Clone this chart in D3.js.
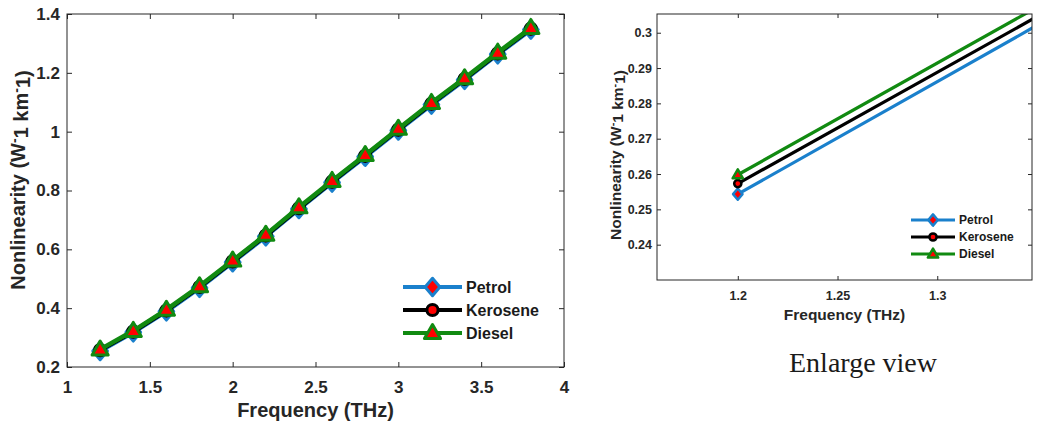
<!DOCTYPE html>
<html>
<head>
<meta charset="utf-8">
<script src="https://cdn.jsdelivr.net/npm/d3@7"></script>
<style>
  html, body { margin: 0; padding: 0; background: #fff; }
  svg { display: block; font-family: "Liberation Sans", Arial, sans-serif; }
  .caption { font-family: "Liberation Serif", "DejaVu Serif", serif; }
</style>
</head>
<body>
<svg id="fig" width="1037" height="428"></svg>
<script>
// Nonlinearity of the fuel-filled fibre versus frequency
const freq     = [1.2, 1.4, 1.6, 1.8, 2.0, 2.2, 2.4, 2.6, 2.8, 3.0, 3.2, 3.4, 3.6, 3.8];
const petrol   = [0.2543, 0.3180, 0.389, 0.469, 0.556, 0.644, 0.737, 0.827, 0.915, 1.004, 1.092, 1.176, 1.263, 1.347];
const kerosene = [0.2573, 0.3203, 0.392, 0.472, 0.559, 0.647, 0.740, 0.830, 0.918, 1.007, 1.095, 1.179, 1.266, 1.350];
const diesel   = [0.2598, 0.3230, 0.395, 0.475, 0.562, 0.650, 0.743, 0.833, 0.921, 1.010, 1.098, 1.182, 1.269, 1.353];
const seriesNames = ["Petrol", "Kerosene", "Diesel"];

// Tick values and labels, full range
const mainXTicks  = [1, 1.5, 2, 2.5, 3, 3.5, 4];
const mainXLabels = ["1", "1.5", "2", "2.5", "3", "3.5", "4"];
const mainYTicks  = [0.2, 0.4, 0.6, 0.8, 1.0, 1.2, 1.4];
const mainYLabels = ["0.2", "0.4", "0.6", "0.8", "1", "1.2", "1.4"];
// Tick values and labels, enlarged view
const zoomXTicks  = [1.2, 1.25, 1.3];
const zoomXLabels = ["1.2", "1.25", "1.3"];
const zoomYTicks  = [0.24, 0.25, 0.26, 0.27, 0.28, 0.29, 0.3];
const zoomYLabels = ["0.24", "0.25", "0.26", "0.27", "0.28", "0.29", "0.3"];

const seriesValues = [petrol, kerosene, diesel];

// Marker shapes (size = marker height in px)
const diamondMark = { draw(ctx, s) { const h = s / 2, w = s * 0.42; ctx.moveTo(0, -h); ctx.lineTo(w, 0); ctx.lineTo(0, h); ctx.lineTo(-w, 0); ctx.closePath(); } };
const circleMark  = { draw(ctx, s) { const r = s / 2; ctx.moveTo(r, 0); ctx.arc(0, 0, r, 0, 2 * Math.PI); ctx.closePath(); } };
const triMark     = { draw(ctx, s) { const h = s, w = s * 1.15 / 2; ctx.moveTo(0, -h * 0.6); ctx.lineTo(w, h * 0.4); ctx.lineTo(-w, h * 0.4); ctx.closePath(); } };

const styles = [
  { color: "#1a80cc", shape: diamondMark, k: 1.25 },
  { color: "#000000", shape: circleMark,  k: 0.8  },
  { color: "#118a11", shape: triMark,     k: 1.0  }
];

const svg = d3.select("#fig");
const axisColor = "#262626";

function drawPanel(cfg) {
  const g = svg.append("g");
  const x = d3.scaleLinear().domain(cfg.xDomain).range([cfg.left, cfg.right]);
  const y = d3.scaleLinear().domain(cfg.yDomain).range([cfg.bottom, cfg.top]);

  const clipId = "clip-" + cfg.id;
  svg.append("clipPath").attr("id", clipId)
    .append("rect")
    .attr("x", cfg.left).attr("y", cfg.top)
    .attr("width", cfg.right - cfg.left).attr("height", cfg.bottom - cfg.top);

  // Series lines and markers
  const plot = g.append("g").attr("clip-path", cfg.clip ? `url(#${clipId})` : null);
  const line = d3.line().x((d, i) => x(freq[i])).y(d => y(d));
  seriesValues.forEach((vals, si) => {
    const st = styles[si];
    plot.append("path")
      .attr("d", line(vals))
      .attr("fill", "none")
      .attr("stroke", st.color)
      .attr("stroke-width", cfg.lineW)
      .attr("stroke-linejoin", "round");
    const sym = d3.symbol().type(st.shape).size(cfg.markSize * st.k);
    plot.selectAll(null).data(vals).join("path")
      .attr("transform", (d, i) => `translate(${x(freq[i])},${y(d)})`)
      .attr("d", sym)
      .attr("fill", "#ff0000")
      .attr("stroke", st.color)
      .attr("stroke-width", cfg.markW)
      .attr("stroke-linejoin", "round");
  });

  // Axes with inward ticks on all four sides
  const fs = cfg.tickFont;
  const styleAxis = sel => {
    sel.select(".domain").remove();
    sel.selectAll("line").attr("stroke", axisColor);
    sel.selectAll("text").attr("fill", axisColor).attr("font-size", fs).attr("font-weight", "bold")
      .attr("font-family", "Liberation Sans, Arial, sans-serif");
  };
  g.append("g").attr("transform", `translate(0,${cfg.bottom})`)
    .call(d3.axisBottom(x).tickValues(cfg.xTicks).tickFormat((d, i) => cfg.xLabels[i])
      .tickSizeInner(-cfg.tickLen).tickSizeOuter(0).tickPadding(cfg.xPad))
    .call(styleAxis);
  g.append("g").attr("transform", `translate(0,${cfg.top})`)
    .call(d3.axisTop(x).tickValues(cfg.xTicks).tickFormat("")
      .tickSizeInner(-cfg.tickLen).tickSizeOuter(0))
    .call(styleAxis);
  g.append("g").attr("transform", `translate(${cfg.left},0)`)
    .call(d3.axisLeft(y).tickValues(cfg.yTicks).tickFormat((d, i) => cfg.yLabels[i])
      .tickSizeInner(-cfg.tickLen).tickSizeOuter(0).tickPadding(cfg.yPad))
    .call(styleAxis);
  g.append("g").attr("transform", `translate(${cfg.right},0)`)
    .call(d3.axisRight(y).tickValues(cfg.yTicks).tickFormat("")
      .tickSizeInner(-cfg.tickLen).tickSizeOuter(0))
    .call(styleAxis);

  g.append("rect")
    .attr("x", cfg.left).attr("y", cfg.top)
    .attr("width", cfg.right - cfg.left).attr("height", cfg.bottom - cfg.top)
    .attr("fill", "none").attr("stroke", axisColor).attr("stroke-width", 1);

  // Axis titles
  g.append("text")
    .attr("x", (cfg.left + cfg.right) / 2).attr("y", cfg.xTitleY)
    .attr("text-anchor", "middle")
    .attr("font-size", cfg.titleFont).attr("font-weight", "bold").attr("fill", axisColor)
    .text("Frequency (THz)");

  const yt = g.append("text")
    .attr("transform", `translate(${cfg.yTitleX},${cfg.yTitleY}) rotate(-90)`)
    .attr("text-anchor", "middle")
    .attr("font-size", cfg.titleFont).attr("font-weight", "bold").attr("fill", axisColor);
  yt.append("tspan").text("Nonlinearity (W");
  yt.append("tspan").attr("dy", "-0.45em").attr("font-size", "0.7em").text("-");
  yt.append("tspan").attr("dy", "0.45em").text("1 km");
  yt.append("tspan").attr("dy", "-0.45em").attr("font-size", "0.7em").text("-");
  yt.append("tspan").attr("dy", "0.45em").text("1)");

  // Legend
  const lg = g.append("g");
  seriesNames.forEach((name, si) => {
    const st = styles[si];
    const ry = cfg.legY + si * cfg.legStep;
    lg.append("line")
      .attr("x1", cfg.legX0).attr("x2", cfg.legX1).attr("y1", ry).attr("y2", ry)
      .attr("stroke", st.color).attr("stroke-width", cfg.legLineW);
    lg.append("path")
      .attr("transform", `translate(${(cfg.legX0 + cfg.legX1) / 2},${ry})`)
      .attr("d", d3.symbol().type(st.shape).size(cfg.markSize * st.k))
      .attr("fill", "#ff0000").attr("stroke", st.color)
      .attr("stroke-width", cfg.markW).attr("stroke-linejoin", "round");
    lg.append("text")
      .attr("x", cfg.legX1 + 4).attr("y", ry)
      .attr("dominant-baseline", "central")
      .attr("font-size", cfg.legFont).attr("font-weight", "bold").attr("fill", "#1a1a1a")
      .text(name);
  });
}

// Full frequency range
drawPanel({
  id: "main", clip: false,
  left: 67, right: 564, top: 14, bottom: 367,
  xDomain: [1, 4], yDomain: [0.2, 1.4],
  xTicks: mainXTicks, xLabels: mainXLabels, yTicks: mainYTicks, yLabels: mainYLabels,
  tickLen: 5, tickFont: 17, xPad: 14, yPad: 7,
  titleFont: 20, xTitleY: 417, yTitleX: 25, yTitleY: 180,
  lineW: 4.5, markSize: 14, markW: 3,
  legX0: 403, legX1: 462, legY: 287, legStep: 23, legLineW: 4, legFont: 16
});

// Enlarged view around 1.2 THz
drawPanel({
  id: "zoom", clip: true,
  left: 657, right: 1032, top: 14, bottom: 280,
  xDomain: [1.1595, 1.3475], yDomain: [0.23, 0.3053],
  xTicks: zoomXTicks, xLabels: zoomXLabels, yTicks: zoomYTicks, yLabels: zoomYLabels,
  tickLen: 4, tickFont: 12.5, xPad: 11, yPad: 5,
  titleFont: 15.5, xTitleY: 320, yTitleX: 621, yTitleY: 155,
  lineW: 3.2, markSize: 9, markW: 2.5,
  legX0: 911, legX1: 955, legY: 220, legStep: 17, legLineW: 3.2, legFont: 12
});

svg.append("text")
  .attr("class", "caption")
  .attr("x", 863).attr("y", 372)
  .attr("text-anchor", "middle")
  .style("font-family", "'Liberation Serif', 'DejaVu Serif', serif")
  .attr("font-size", 28).attr("fill", "#1a1a1a")
  .text("Enlarge view");
</script>
</body>
</html>
